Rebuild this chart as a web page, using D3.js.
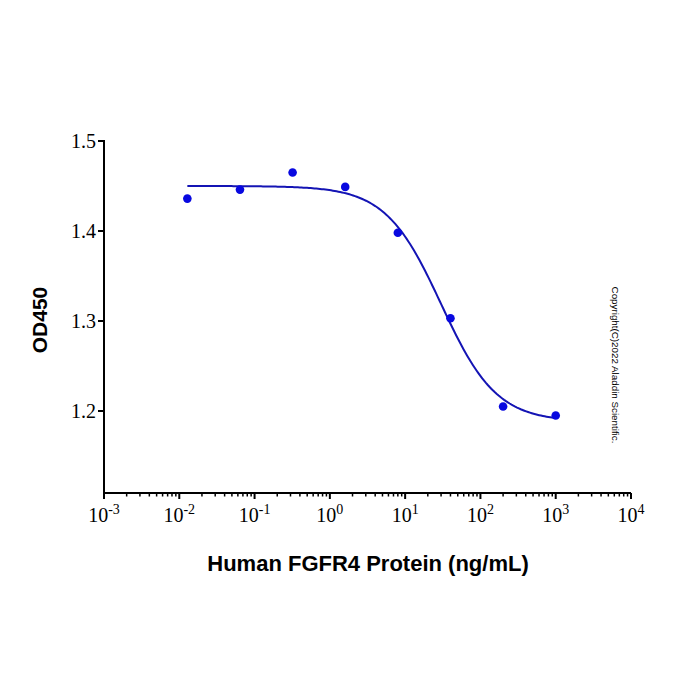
<!DOCTYPE html>
<html>
<head>
<meta charset="utf-8">
<script src="https://cdn.jsdelivr.net/npm/d3@7"></script>
<style>
  body { margin: 0; background: #fff; }
</style>
</head>
<body>
<div id="chart"></div>
<script>
// concentrations (ng/mL), 5-fold dilutions
const conc = [0.0128, 0.064, 0.32, 1.6, 8, 40, 200, 1000];
const od450 = [1.436, 1.446, 1.465, 1.449, 1.398, 1.303, 1.205, 1.195];

// 4PL fit parameters
const fitTop = 1.450;
const fitBottom = 1.188;
const fitEC50 = 30;
const fitHill = 1.18;

const yTicks = [1.2, 1.3, 1.4, 1.5];
const xExponents = [-3, -2, -1, 0, 1, 2, 3, 4];

const W = 700, H = 700;

const svg = d3.select("#chart")
  .append("svg")
  .attr("width", W)
  .attr("height", H);

const x = d3.scaleLog()
  .domain([1e-3, 1e4])
  .range([104, 631]);

const y = d3.scaleLinear()
  .domain([1.1089, 1.5])
  .range([493, 141]);

// =========================
// AXES
// =========================
const xAxis = svg.append("g").attr("transform", "translate(0,493)");

xAxis.append("line")
  .attr("x1", 104).attr("x2", 631)
  .attr("stroke", "#000").attr("stroke-width", 2);

// minor log ticks
const minor = [];
xExponents.slice(0, -1).forEach(e => {
  for (let k = 2; k <= 9; k++) minor.push(k * Math.pow(10, e));
});
xAxis.selectAll(".minor")
  .data(minor)
  .join("line")
  .attr("x1", d => x(d)).attr("x2", d => x(d))
  .attr("y1", 0).attr("y2", 3.5)
  .attr("stroke", "#000").attr("stroke-width", 1.5);

xAxis.selectAll(".major")
  .data(xExponents)
  .join("line")
  .attr("x1", d => x(Math.pow(10, d))).attr("x2", d => x(Math.pow(10, d)))
  .attr("y1", 0).attr("y2", 6)
  .attr("stroke", "#000").attr("stroke-width", 2);

const xLab = xAxis.selectAll(".xlab")
  .data(xExponents)
  .join("text")
  .attr("x", d => x(Math.pow(10, d)))
  .attr("y", 29)
  .attr("text-anchor", "middle")
  .style("font-family", "'Liberation Serif', 'Times New Roman', serif")
  .style("font-size", "20px")
  .style("fill", "#000");
xLab.append("tspan").text("10");
xLab.append("tspan")
  .attr("dy", -8)
  .style("font-size", "14px")
  .text(d => d < 0 ? "-" + Math.abs(d) : d);

const yAxis = svg.append("g");
yAxis.append("line")
  .attr("x1", 104).attr("x2", 104)
  .attr("y1", 140).attr("y2", 494)
  .attr("stroke", "#000").attr("stroke-width", 2);

yAxis.selectAll(".ytick")
  .data(yTicks)
  .join("line")
  .attr("x1", 98).attr("x2", 104)
  .attr("y1", d => y(d)).attr("y2", d => y(d))
  .attr("stroke", "#000").attr("stroke-width", 2);

yAxis.selectAll(".ylab")
  .data(yTicks)
  .join("text")
  .attr("x", 96)
  .attr("y", d => y(d) + 7)
  .attr("text-anchor", "end")
  .style("font-family", "'Liberation Serif', 'Times New Roman', serif")
  .style("font-size", "20px")
  .style("fill", "#000")
  .text(d => d.toFixed(1));

// =========================
// FIT CURVE
// =========================
const fit = c => fitBottom + (fitTop - fitBottom) / (1 + Math.pow(c / fitEC50, fitHill));
const curvePts = d3.range(0, 201).map(i => {
  const lc = Math.log10(conc[0]) + i / 200 * (Math.log10(conc[conc.length - 1]) - Math.log10(conc[0]));
  const c = Math.pow(10, lc);
  return [c, fit(c)];
});

svg.append("path")
  .datum(curvePts)
  .attr("fill", "none")
  .attr("stroke", "#1414b4")
  .attr("stroke-width", 2)
  .attr("d", d3.line().x(d => x(d[0])).y(d => y(d[1])));

// =========================
// POINTS
// =========================
svg.selectAll(".pt")
  .data(conc)
  .join("circle")
  .attr("cx", d => x(d))
  .attr("cy", (d, i) => y(od450[i]))
  .attr("r", 4.3)
  .attr("fill", "#0808e0");

// =========================
// LABELS
// =========================
svg.append("text")
  .attr("x", 368)
  .attr("y", 571)
  .attr("text-anchor", "middle")
  .style("font-family", "'Liberation Sans', Arial, sans-serif")
  .style("font-weight", "bold")
  .style("font-size", "22px")
  .text("Human FGFR4 Protein (ng/mL)");

svg.append("text")
  .attr("transform", "translate(47,320) rotate(-90)")
  .attr("text-anchor", "middle")
  .style("font-family", "'Liberation Sans', Arial, sans-serif")
  .style("font-weight", "bold")
  .style("font-size", "21px")
  .text("OD450");

svg.append("text")
  .attr("transform", "translate(612,365) rotate(90)")
  .attr("text-anchor", "middle")
  .style("font-family", "'Liberation Sans', Arial, sans-serif")
  .style("font-size", "9.8px")
  .text("Copyright(C)2022 Aladdin Scientific.");
</script>
</body>
</html>
